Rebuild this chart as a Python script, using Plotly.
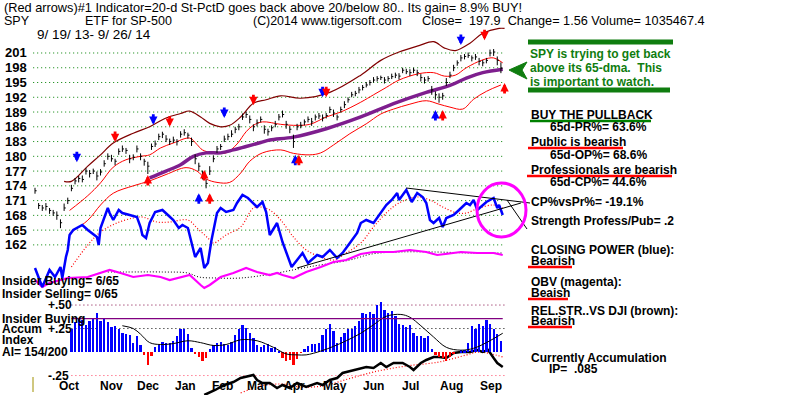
import plotly.graph_objects as go

# ---------------- DATA ----------------
# x axis = trading-day index (0 = 9/19/13 ... 257 = 9/26/14)
month_labels = ['Oct', 'Nov', 'Dec', 'Jan', 'Feb', 'Mar', 'Apr', 'May', 'Jun', 'Jul', 'Aug', 'Sep']
month_ticks = [18.5, 42, 62, 82.5, 103, 122.5, 142.5, 165, 186, 206.5, 229, 250.5]

price_ticks = [201, 198, 195, 192, 189, 186, 183, 180, 177, 174, 171, 168, 165, 162]

bar_idx = list(range(0, 257, 2))
bar_close = [173.0, 170.0, 169.5, 169.8, 169.0, 168.5, 168.0, 166.5, 169.5, 171.0,
             173.5, 175.0, 175.5, 175.3, 177.0, 176.5, 177.0, 176.0, 176.8, 178.5,
             180.0, 179.5, 179.0, 181.0, 181.5, 181.2, 179.5, 179.8, 181.5, 180.0,
             179.0, 178.0, 182.0, 182.5, 184.0, 184.5, 183.5, 183.0, 183.3, 183.0,
             184.5, 184.8, 184.3, 183.0, 179.5, 178.0, 176.5, 174.5, 177.0, 179.5,
             181.5, 182.0, 183.5, 184.0, 184.5, 185.5, 186.0, 188.0, 188.5, 187.5,
             186.0, 186.8, 187.5, 185.5, 185.0, 185.8, 186.5, 188.0, 188.5, 186.5,
             185.5, 183.0, 186.0, 186.3, 187.0, 187.5, 187.0, 188.0, 188.2, 187.8,
             188.3, 189.5, 188.8, 188.0, 189.5, 190.5, 191.5, 192.5, 192.8, 193.5,
             194.0, 194.5, 195.0, 195.5, 195.8, 196.0, 195.5, 195.8, 196.2, 196.5,
             196.3, 197.5, 197.2, 197.0, 197.5, 197.0, 196.0, 195.5, 195.8, 193.5,
             192.5, 192.0, 192.3, 195.0, 196.5, 198.0, 199.0, 200.0, 200.3, 200.5,
             200.0, 200.2, 199.3, 199.0, 199.5, 201.0, 201.2, 199.5, 197.9]
bar_up = [0.6, 0.5, 0.6, 0.7, 0.5, 0.6, 0.8, 0.7, 0.9, 0.6,
          0.7, 0.6, 0.5, 0.8, 0.6, 0.7, 0.5, 0.9, 0.6, 0.7,
          0.6, 0.8, 0.5, 0.6, 0.7, 0.5, 0.8, 0.6, 0.7, 0.6,
          0.5, 0.9, 0.6, 0.7, 0.6, 0.5, 0.8, 0.6, 0.7, 0.5,
          0.6, 0.7, 0.5, 0.8, 0.9, 0.7, 0.6, 0.8, 1.0, 0.7,
          0.6, 0.5, 0.7, 0.6, 0.8, 0.5, 0.6, 0.7, 0.6, 0.8,
          0.5, 0.7, 0.6, 0.8, 0.6, 0.5, 0.7, 0.6, 0.8, 0.7,
          0.6, 1.4, 0.6, 0.7, 0.5, 0.6, 0.8, 0.5, 0.6, 0.7,
          0.5, 0.6, 0.7, 0.5, 0.6, 0.7, 0.5, 0.6, 0.5, 0.6,
          0.5, 0.6, 0.5, 0.6, 0.5, 0.4, 0.6, 0.5, 0.6, 0.5,
          0.6, 0.5, 0.6, 0.7, 0.5, 0.6, 0.7, 0.6, 0.5, 0.8,
          0.7, 0.8, 0.6, 0.9, 0.7, 0.6, 0.5, 0.6, 0.5, 0.6,
          0.5, 0.6, 0.7, 0.6, 0.5, 0.7, 0.6, 0.8, 1.2]
bar_dn = [0.6, 0.7, 0.6, 0.8, 0.7, 0.6, 0.9, 1.1, 0.6, 0.7,
          0.6, 0.7, 0.8, 0.6, 0.7, 0.8, 0.6, 0.9, 0.7, 0.6,
          0.7, 0.6, 0.8, 0.7, 0.6, 0.7, 0.9, 0.6, 0.7, 0.8,
          0.9, 1.6, 0.7, 0.6, 0.7, 0.8, 0.6, 0.7, 0.6, 0.8,
          0.7, 0.6, 0.7, 0.9, 1.1, 1.0, 1.2, 1.0, 0.8, 0.7,
          0.8, 0.7, 0.6, 0.7, 0.6, 0.8, 0.7, 0.6, 0.7, 0.8,
          0.9, 0.7, 0.6, 0.9, 0.8, 0.7, 0.6, 0.7, 0.6, 0.9,
          0.8, 1.3, 0.7, 0.6, 0.7, 0.6, 0.8, 0.7, 0.6, 0.7,
          0.6, 0.7, 0.8, 0.7, 0.6, 0.7, 0.6, 0.5, 0.6, 0.7,
          0.6, 0.5, 0.6, 0.5, 0.6, 0.5, 0.7, 0.6, 0.5, 0.6,
          0.7, 0.6, 0.5, 0.7, 0.6, 0.7, 0.8, 0.7, 0.6, 1.0,
          1.0, 1.1, 0.8, 0.7, 0.6, 0.7, 0.6, 0.7, 0.6, 0.5,
          0.7, 0.6, 0.8, 0.7, 0.6, 0.7, 0.8, 1.0, 1.0]

# bands / moving averages on the price scale
ub_idx = [16, 20, 29, 36, 43, 54, 63, 72, 80, 85, 91, 96, 102, 107, 113, 120, 127, 135, 146, 162, 179, 190, 200, 211, 219, 225, 231, 239, 246, 255, 258]
ub_val = [174.9, 174.9, 178.0, 180.3, 182.7, 184.7, 186.0, 187.8, 188.7, 189.2, 188.0, 186.7, 186.0, 186.3, 188.0, 190.8, 191.5, 192.3, 191.8, 193.0, 196.5, 199.5, 201.2, 202.5, 203.3, 202.0, 201.5, 203.0, 205.0, 206.0, 206.0]
ma21_idx = [19, 29, 36, 43, 50, 58, 63, 69, 76, 85, 89, 92, 98, 105, 111, 116, 120, 125, 135, 142, 151, 160, 168, 179, 186, 193, 200, 211, 219, 225, 231, 237, 246, 252, 257]
ma21_val = [169.0, 172.0, 174.6, 177.8, 179.3, 180.0, 180.3, 181.7, 182.7, 183.7, 182.4, 181.3, 180.7, 180.7, 182.5, 185.0, 186.3, 187.0, 186.5, 186.3, 186.5, 188.0, 189.0, 191.0, 192.5, 194.0, 195.5, 196.8, 197.0, 196.3, 196.5, 198.0, 199.6, 200.0, 199.0]
lb_idx = [19, 29, 36, 43, 54, 63, 72, 83, 89, 94, 100, 107, 113, 118, 125, 135, 142, 151, 157, 164, 173, 182, 190, 197, 206, 215, 222, 228, 235, 241, 248, 256]
lb_val = [164.4, 167.0, 170.1, 172.5, 174.0, 175.0, 176.3, 177.7, 177.0, 175.4, 174.7, 174.7, 176.6, 179.0, 180.7, 181.3, 180.6, 180.3, 180.7, 182.3, 184.6, 186.6, 188.6, 189.6, 190.6, 191.3, 190.6, 190.0, 189.6, 191.6, 193.2, 194.5]
ma65_idx = [63, 72, 80, 87, 94, 102, 109, 116, 124, 129, 142, 160, 179, 197, 215, 228, 237, 246, 257]
ma65_val = [175.6, 177.0, 178.3, 180.0, 180.7, 180.7, 181.3, 182.0, 182.8, 183.3, 183.9, 185.6, 188.0, 190.7, 193.0, 194.4, 195.9, 197.0, 197.7]

# buy / sell arrows: day index, price at arrow tip, direction, colour
sig_idx = [23, 44, 65, 74, 104, 120, 158, 160, 234, 247, 62, 93, 90, 96, 143, 145, 220, 224, 258]
sig_price = [178.8, 182.9, 186.4, 186.0, 187.8, 190.4, 192.0, 192.0, 202.6, 203.6, 176.2, 177.2, 172.5, 172.5, 180.3, 180.3, 189.4, 189.4, 194.9]
sig_dir = ['down'] * 10 + ['up'] * 9
sig_color = ['blue', 'red', 'blue', 'red', 'blue', 'red', 'blue', 'red', 'blue', 'red',
             'red', 'red', 'blue', 'red', 'blue', 'red', 'blue', 'red', 'red']

# Closing Power (arbitrary units)
cp_idx = [0, 4, 8, 11, 14, 15, 17, 18, 19, 21, 26, 29, 34, 35, 36, 40, 41, 43, 46, 48,
          52, 56, 58, 59, 61, 63, 66, 70, 73, 76, 79, 81, 84, 86, 88, 91, 93, 95, 97, 100,
          102, 105, 109, 111, 114, 117, 120, 122, 125, 127, 129, 133, 136, 139, 141, 144, 147, 150, 155, 158,
          162, 166, 169, 173, 177, 179, 182, 186, 190, 193, 196, 199, 200, 204, 207, 210, 213, 215, 217, 219,
          222, 224, 226, 230, 233, 237, 239, 241, 243, 248, 252, 254, 255, 257]
cp_val = [22, 3, 20, 13, 23, 12, 33, 40, 55, 60, 65, 60, 53, 45, 62, 82, 77, 70, 80, 77,
          75, 73, 63, 55, 52, 67, 78, 80, 75, 70, 62, 65, 62, 47, 33, 42, 22, 27, 50, 77,
          82, 78, 80, 87, 95, 92, 87, 83, 88, 78, 55, 67, 48, 33, 23, 30, 37, 27, 35, 33,
          40, 32, 37, 47, 57, 67, 70, 67, 77, 85, 90, 97, 90, 100, 88, 97, 93, 87, 70, 67,
          72, 63, 72, 75, 80, 87, 85, 90, 80, 88, 92, 82, 85, 75]
cpm_idx = [20, 29, 36, 45, 54, 59, 67, 74, 84, 89, 95, 98, 105, 113, 120, 124, 129, 135, 142, 149,
           157, 164, 171, 179, 186, 193, 200, 210, 217, 224, 232, 237, 244, 252, 257]
cpm_val = [23, 45, 58, 67, 72, 73, 68, 68, 70, 62, 52, 47, 55, 63, 82, 83, 80, 70, 53, 40,
           33, 30, 37, 47, 63, 77, 87, 93, 90, 83, 77, 77, 82, 85, 82]

# OBV (magenta) and its average
obv_idx = [0, 4, 8, 18, 29, 36, 41, 47, 54, 62, 69, 74, 80, 85, 91, 93, 96, 102, 109, 116,
           122, 129, 133, 136, 142, 149, 157, 164, 171, 179, 186, 197, 206, 215, 221, 228, 234, 243, 252, 257]
obv_val = [10, 3, 7, 12, 13, 17, 20, 17, 13, 15, 13, 10, 13, 15, 5, 2, 5, 13, 17, 22,
           18, 15, 17, 15, 12, 18, 23, 28, 30, 36, 38, 38, 40, 38, 35, 37, 38, 37, 37, 35]
obvm_idx = [40, 50, 70, 84, 90, 100, 113, 130, 150, 173, 185, 200, 220, 240, 257]
obvm_val = [18, 18, 18, 17, 13, 12, 12, 16, 23, 30, 36, 38, 38, 37, 37]

# trend lines on the Closing Power (start/end)
tl_x0 = [204, 144]
tl_y0 = [102, 22]
tl_x1 = [272, 267]
tl_y1 = [87, 87]

# Accumulation Index histogram
ai_idx = list(range(20, 257, 2))
ai_val = [0.24, 0.32, 0.35, 0.34, 0.29, 0.33, 0.36, 0.42, 0.33, 0.35,
          0.32, 0.27, 0.28, 0.24, 0.20, 0.19, 0.18, 0.10, 0.17, 0.07,
          -0.03, -0.14, -0.04, 0.05, 0.07, 0.11, 0.10, 0.10, 0.12, 0.17,
          0.24, 0.25, 0.19, 0.04, -0.02, -0.05, -0.10, -0.06, 0.03, 0.07,
          0.10, 0.11, 0.09, 0.08, 0.11, 0.18, 0.24, 0.29, 0.26, 0.20,
          0.15, 0.08, 0.05, 0.07, 0.09, 0.04, 0.05, 0.01, -0.06, -0.10,
          -0.08, -0.14, -0.07, -0.01, 0.03, 0.06, 0.09, 0.09, 0.10, 0.18,
          0.24, 0.30, 0.22, 0.10, 0.16, 0.20, 0.25, 0.24, 0.28, 0.33,
          0.42, 0.40, 0.43, 0.40, 0.50, 0.53, 0.45, 0.42, 0.44, 0.38,
          0.30, 0.29, 0.27, 0.29, 0.20, 0.17, 0.17, 0.15, 0.17, 0.03,
          -0.03, -0.05, -0.06, -0.10, -0.05, -0.02, 0.00, 0.02, 0.02, 0.10,
          0.28, 0.25, 0.30, 0.28, 0.34, 0.30, 0.25, 0.19, 0.12]
aim_idx = [48, 54, 58, 63, 69, 76, 84, 91, 98, 105, 113, 122, 131, 138, 144, 149, 157, 164, 171, 179,
           186, 193, 201, 206, 212, 219, 226, 234, 241, 248, 257]
aim_val = [0.28, 0.25, 0.19, 0.10, 0.08, 0.09, 0.12, 0.10, 0.07, 0.08, 0.13, 0.12, 0.05, -0.02, -0.03, -0.03, 0.01, 0.06, 0.12, 0.20,
           0.29, 0.38, 0.40, 0.37, 0.28, 0.16, 0.05, 0.02, 0.04, 0.10, 0.20]
ai_grid = [0.50, 0.25, -0.25]
ai_grid_labels = ['+.50', '+.25', '-.25']
insider_level = 0.355

# Relative strength vs DJI (brown/black) and its average
rs_idx = [93, 99, 104, 109, 113, 116, 120, 122, 125, 129, 133, 136, 140, 144, 149, 155, 158, 162, 166, 169,
          175, 182, 186, 190, 193, 197, 202, 206, 208, 212, 215, 219, 222, 226, 230, 234, 239, 243, 246, 249,
          252, 254, 257]
rs_val = [-105, -100, -95, -92, -88, -87, -85, -90, -93, -93, -98, -95, -98, -93, -97, -93, -95, -90, -88, -83,
          -80, -77, -78, -73, -77, -73, -73, -77, -80, -73, -70, -67, -67, -68, -63, -62, -62, -60, -62, -60,
          -68, -73, -77]
rsm_idx = [113, 124, 135, 146, 158, 172, 186, 204, 222, 237, 244, 257]
rsm_val = [-103, -96, -94, -97, -96, -89, -82, -76, -72, -65, -62, -67]

# ---------------- FIGURE ----------------
W, H = 800, 395
FONT = 'Arial, Liberation Sans, sans-serif'


def PX(x):
    return x / W


def PY(y):
    return 1 - y / H


fig = go.Figure()

# price bars
bx, by = [], []
for i, c, u, d in zip(bar_idx, bar_close, bar_up, bar_dn):
    bx += [i, i, None, i, i + 0.9, None]
    by += [c - d, c + u, None, c, c, None]

fig.add_trace(go.Scatter(x=ub_idx, y=ub_val, mode='lines', line=dict(color='#800000', width=1.2, shape='spline'), yaxis='y'))
fig.add_trace(go.Scatter(x=lb_idx, y=lb_val, mode='lines', line=dict(color='#FF0000', width=1, shape='spline'), yaxis='y'))
fig.add_trace(go.Scatter(x=ma21_idx, y=ma21_val, mode='lines', line=dict(color='#FF0000', width=1, shape='spline'), yaxis='y'))
fig.add_trace(go.Scatter(x=ma65_idx, y=ma65_val, mode='lines', line=dict(color='#7E1E8E', width=3.5, shape='spline'), yaxis='y'))
fig.add_trace(go.Scatter(x=bx, y=by, mode='lines', line=dict(color='black', width=1), yaxis='y'))

# indicator lines (arbitrary scale, y2)
fig.add_trace(go.Scatter(x=obvm_idx, y=obvm_val, mode='lines', line=dict(color='black', width=1, dash='1px,2px', shape='spline'), yaxis='y2'))
fig.add_trace(go.Scatter(x=obv_idx, y=obv_val, mode='lines', line=dict(color='#FF00FF', width=2.2), yaxis='y2'))
fig.add_trace(go.Scatter(x=cpm_idx, y=cpm_val, mode='lines', line=dict(color='#FF0000', width=1.2, dash='1px,2px', shape='spline'), yaxis='y2'))
fig.add_trace(go.Scatter(x=cp_idx, y=cp_val, mode='lines', line=dict(color='#0000FF', width=2.5), yaxis='y2'))
fig.add_trace(go.Scatter(x=rsm_idx, y=rsm_val, mode='lines', line=dict(color='#FF0000', width=1.2, dash='1px,2px', shape='spline'), yaxis='y2'))
fig.add_trace(go.Scatter(x=rs_idx, y=rs_val, mode='lines', line=dict(color='black', width=2.5), yaxis='y2'))

# accumulation index
fig.add_trace(go.Bar(x=ai_idx, y=ai_val, width=1.25,
                     marker=dict(color=['#0000FF' if v >= 0 else '#FF0000' for v in ai_val], line=dict(width=0)),
                     yaxis='y4'))
fig.add_trace(go.Scatter(x=aim_idx, y=aim_val, mode='lines', line=dict(color='black', width=1, shape='spline'), yaxis='y4'))

shapes = []
# price grid
for t in price_ticks:
    shapes.append(dict(type='line', xref='x', yref='y', x0=-1, x1=258, y0=t, y1=t,
                       line=dict(color='#008000', width=1, dash='1px,3px'), layer='below'))
# AI grid
ai_grid_colors = ['#800040', 'black', '#FF4060']
for g, col in zip(ai_grid, ai_grid_colors):
    shapes.append(dict(type='line', xref='x', yref='y4', x0=20, x1=258, y0=g, y1=g,
                       line=dict(color=col, width=1, dash='1px,3px'), layer='below'))
shapes.append(dict(type='line', xref='x', yref='y4', x0=20, x1=257, y0=insider_level, y1=insider_level,
                   line=dict(color='#800080', width=1.3)))
# trend lines
for x0, y0, x1, y1 in zip(tl_x0, tl_y0, tl_x1, tl_y1):
    shapes.append(dict(type='line', xref='x', yref='y2', x0=x0, y0=y0, x1=x1, y1=y1,
                       line=dict(color='black', width=1)))
shapes.append(dict(type='line', xref='paper', yref='paper', x0=PX(507), y0=PY(200), x1=PX(527), y1=PY(229),
                   line=dict(color='black', width=1)))
# magenta circle
shapes.append(dict(type='circle', xref='paper', yref='paper', x0=PX(477), x1=PX(526), y0=PY(237), y1=PY(183),
                   line=dict(color='#FF00FF', width=3)))
# green note lines and pointer
GREEN = '#0F7D0F'
shapes.append(dict(type='line', xref='paper', yref='paper', x0=PX(528), x1=PX(673), y0=PY(42), y1=PY(42),
                   line=dict(color=GREEN, width=5)))
shapes.append(dict(type='line', xref='paper', yref='paper', x0=PX(528), x1=PX(670), y0=PY(90), y1=PY(90),
                   line=dict(color=GREEN, width=5)))
shapes.append(dict(type='path', xref='paper', yref='paper',
                   path=f'M {PX(527)} {PY(62)} L {PX(509)} {PY(70)} L {PX(527)} {PY(79)} L {PX(522)} {PY(70)} Z',
                   fillcolor=GREEN, line=dict(color=GREEN, width=1)))
# small olive tick at bottom left
shapes.append(dict(type='line', xref='paper', yref='paper', x0=PX(33), x1=PX(33), y0=PY(377), y1=PY(392),
                   line=dict(color='#A09000', width=1)))

annotations = []


def txt(text, x, y, size=12, bold=False, color='black', anchor='left'):
    annotations.append(dict(text=f'<b>{text}</b>' if bold else text, x=PX(x), y=PY(y), xref='paper', yref='paper',
                            xanchor=anchor, yanchor='middle', showarrow=False,
                            font=dict(family=FONT, size=size, color=color)))


# header
txt('(Red arrows)#1 Indicator=20-d St-PctD goes back above 20/below 80.. Its gain= 8.9% BUY!', 2, 8, 12.75)
txt('SPY', 2, 21, 12.5)
txt('ETF for SP-500', 83, 21, 12.5)
txt('(C)2014 www.tigersoft.com', 251, 21, 12.4)
txt('Close=  197.9  Change= 1.56 Volume= 1035467.4', 420, 21, 12.7)
txt('9/ 19/ 13- 9/ 26/ 14', 35, 34, 13.5)

# price tick labels
for t in price_ticks:
    annotations.append(dict(text=f'<b>{t}</b>', x=PX(3), y=t, xref='paper', yref='y', xanchor='left',
                            yanchor='middle', showarrow=False, font=dict(family=FONT, size=13, color='black')))

# month labels
for m, t in zip(month_labels, month_ticks):
    annotations.append(dict(text=f'<b>{m}</b>', x=t, y=PY(386), xref='x', yref='paper', xanchor='center',
                            yanchor='middle', showarrow=False, font=dict(family=FONT, size=12, color='black')))

# AI grid labels
for g, lab in zip(ai_grid, ai_grid_labels):
    annotations.append(dict(text=f'<b>{lab}</b>', x=PX(46), y=g, xref='paper', yref='y4', xanchor='left',
                            yanchor='middle', showarrow=False, font=dict(family=FONT, size=12, color='black')))

# left panel labels
txt('Insider Buying= 6/65', 0, 281, 12, True)
txt('Insider Selling= 0/65', 0, 294, 12, True)
txt('Insider Buying', 0, 319, 12, True)
txt('Accum', 0, 329, 12, True)
txt('Index', 0, 340, 12, True)
txt('AI= 154/200', 0, 352, 12, True)

# green note
txt('SPY is trying to get back', 528, 54, 12, True, GREEN)
txt('above its 65-dma.  This', 528, 68, 12, True, GREEN)
txt('is important to watch.', 528, 82, 12, True, GREEN)

# right panel texts with underlines
right_texts = [
    ('BUY THE PULLBACK', 529, 115, '#008000', 530, 651),
    ('65d-PR%= 63.6%', 548, 127, None, 0, 0),
    ('Public is bearish', 529, 142, '#FF0000', 528, 623),
    ('65d-OP%= 68.6%', 548, 155, None, 0, 0),
    ('Professionals are bearish', 529, 170, '#FF0000', 527, 672),
    ('65d-CP%= 44.6%', 548, 182, None, 0, 0),
    ('CP%vsPr%= -19.1%', 529, 202, None, 0, 0),
    ('Strength Profess/Pub= .2', 529, 221, None, 0, 0),
    ('CLOSING POWER (blue):', 529, 250, None, 0, 0),
    ('Bearish', 529, 261, '#FF0000', 528, 572),
    ('OBV (magenta):', 529, 282, None, 0, 0),
    ('Beaish', 529, 293, '#FF0000', 528, 568),
    ('REL.STR..VS DJI (brown):', 529, 311, None, 0, 0),
    ('Bearish', 529, 321, '#FF0000', 528, 572),
    ('Currently Accumulation', 529, 358, None, 0, 0),
    ('IP=  .085', 547, 369, None, 0, 0),
]
for text, x, y, ucol, ux0, ux1 in right_texts:
    txt(text, x, y, 12, True)
    if ucol:
        shapes.append(dict(type='line', xref='paper', yref='paper', x0=PX(ux0), x1=PX(ux1),
                           y0=PY(y + 6), y1=PY(y + 6), line=dict(color=ucol, width=2.5)))

# buy/sell arrows
for i, p, d, c in zip(sig_idx, sig_price, sig_dir, sig_color):
    annotations.append(dict(x=i, y=p, xref='x', yref='y', text='', showarrow=True, arrowhead=2,
                            arrowsize=0.6, arrowwidth=2.8, arrowcolor='#0000FF' if c == 'blue' else '#FF0000',
                            ax=0, ay=-12 if d == 'down' else 12, font=dict(size=1), standoff=0, startstandoff=0))

X_RANGE = [-19.23, 420.33]
fig.update_layout(
    width=W, height=H, margin=dict(l=0, r=0, t=0, b=0),
    paper_bgcolor='white', plot_bgcolor='white', showlegend=False,
    bargap=0,
    xaxis=dict(range=X_RANGE, visible=False, fixedrange=True),
    yaxis=dict(range=[131.49, 211.77], visible=False, fixedrange=True),
    yaxis2=dict(range=[-105, 290], visible=False, overlaying='y', fixedrange=True),
    yaxis4=dict(range=[-0.457, 3.745], visible=False, overlaying='y', fixedrange=True),
    shapes=shapes, annotations=annotations,
)

fig.write_html('out.html', config={'displayModeBar': False},
               post_script="document.body.style.margin='0';document.body.style.padding='0';")
